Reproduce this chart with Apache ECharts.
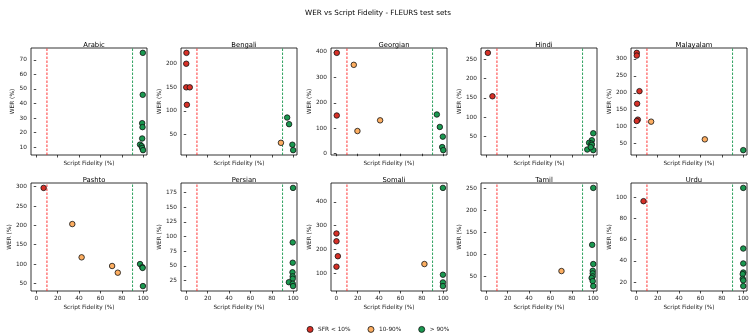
<!DOCTYPE html>
<html><head><meta charset="utf-8">
<script src="https://cdn.jsdelivr.net/npm/echarts@6/dist/echarts.min.js"></script>
<style>html,body{margin:0;padding:0;background:#fff}#c{width:756px;height:335px}</style>
</head><body><div id="c"></div>
<script>
const languages = ['Arabic','Bengali','Georgian','Hindi','Malayalam','Pashto','Persian','Somali','Tamil','Urdu'];
const arabicFid = [99.6, 99.5, 99.0, 99.3, 99.0, 97.0, 98.5, 99.0, 99.8];
const arabicWer = [74.8, 46.0, 26.5, 23.8, 16.0, 11.8, 10.8, 9.5, 8.0];
const bengaliFid = [0.2, 0.0, 0.0, 3.3, 0.6, 94.3, 96.1, 88.5, 99.2, 99.9];
const bengaliWer = [223, 200, 150, 150, 113, 86, 72, 32.5, 28.5, 17];
const georgianFid = [0.5, 0.5, 16.4, 19.8, 41.0, 94.0, 96.8, 99.6, 99.0, 100];
const georgianWer = [396, 150, 349, 89, 131, 154, 105, 67, 26, 14];
const hindiFid = [1.5, 5.8, 100, 98.7, 96.1, 98.3, 98.7, 94.4, 100, 97.7];
const hindiWer = [266, 154, 58.5, 40.6, 34, 32, 28.6, 16.6, 15, 22.6];
const malayalamFid = [0.5, 0.5, 3.0, 0.8, 1.5, 0.5, 13.9, 64.1, 100];
const malayalamWer = [318, 310, 205, 168, 121, 117, 115, 62.8, 31];
const pashtoFid = [6.9, 33.7, 42.4, 70.9, 76.2, 97.0, 99.2, 99.4, 99.7];
const pashtoWer = [297, 203.5, 117.4, 95, 77.7, 100, 92, 90, 43];
const persianFid = [99.8, 99.5, 99.5, 99.3, 99.5, 99.5, 95.9, 99.5, 99.8];
const persianWer = [183, 90, 55.3, 39, 32, 28, 22, 19.5, 15.4];
const somaliFid = [0.2, 0.2, 1.5, 0.2, 82.4, 99.7, 99.7, 99.7, 99.7];
const somaliWer = [266.7, 234, 171, 126.8, 138, 459, 92.9, 60.6, 45];
const tamilFid = [100, 99, 100, 99.5, 99.5, 99.5, 98.5, 99.5, 100, 70.3];
const tamilWer = [250.7, 122, 78.6, 63.4, 57.5, 50.8, 47, 40, 28.8, 62.8];
const urduFid = [6.8, 100, 100, 100, 100, 99.5, 99.5, 100, 100];
const urduWer = [96.2, 108.7, 51.6, 37.5, 29, 27.5, 23.1, 21.5, 16.2];

const xTicks = [0, 20, 40, 60, 80, 100];
const yTicks = {
  Arabic: [10, 20, 30, 40, 50, 60, 70],
  Bengali: [50, 100, 150, 200],
  Georgian: [0, 100, 200, 300, 400],
  Hindi: [50, 100, 150, 200, 250],
  Malayalam: [50, 100, 150, 200, 250, 300],
  Pashto: [50, 100, 150, 200, 250, 300],
  Persian: [25, 50, 75, 100, 125, 150, 175],
  Somali: [100, 200, 300, 400],
  Tamil: [50, 100, 150, 200, 250],
  Urdu: [20, 40, 60, 80, 100]
};
const thresholds = [10, 90];
const groupNames = ['SFR < 10%', '10-90%', '> 90%'];

const fidData = [arabicFid, bengaliFid, georgianFid, hindiFid, malayalamFid, pashtoFid, persianFid, somaliFid, tamilFid, urduFid];
const werData = [arabicWer, bengaliWer, georgianWer, hindiWer, malayalamWer, pashtoWer, persianWer, somaliWer, tamilWer, urduWer];

const colors = ['#d73027', '#fdae61', '#1a9850'];
const lineColors = ['#ff2020', '#1a9850'];
const lefts = [31, 181, 331, 481, 631];
const W = 116;
const rows = [{top: 48, h: 107}, {top: 183, h: 108}];
const font = 'DejaVu Sans';

const grids = [], xAxes = [], yAxes = [], series = [], titles = [];
titles.push({text: 'WER vs Script Fidelity - FLEURS test sets', left: 'center', top: 5,
  textStyle: {fontFamily: font, fontSize: 7.2, fontWeight: 'normal', color: '#000'}});

languages.forEach((lang, i) => {
  const r = Math.floor(i / 5), c = i % 5;
  const row = rows[r];
  grids.push({left: lefts[c], top: row.top, width: W, height: row.h, show: true,
    borderColor: '#000', borderWidth: 0.8, backgroundColor: 'transparent'});
  titles.push({text: lang, left: lefts[c] + W / 2, top: row.top - 11, textAlign: 'center',
    textStyle: {fontFamily: font, fontSize: 6.8, fontWeight: 'normal', color: '#000'}});
  const f = fidData[i], w = werData[i];
  const lo = Math.min(...w), hi = Math.max(...w), pad = 0.05 * (hi - lo);
  const yMin = lo - pad, yMax = hi + pad;
  const maxLen = Math.max(...yTicks[lang].map(v => String(v).length));
  xAxes.push({type: 'value', gridIndex: i, min: -4.9, max: 103.5,
    name: 'Script Fidelity (%)', nameLocation: 'middle', nameGap: r === 0 ? 5 : 13,
    nameTextStyle: {fontFamily: font, fontSize: 5.8, color: '#222'},
    axisLine: {show: false}, splitLine: {show: false},
    axisTick: {show: true, customValues: xTicks, length: 2.5, lineStyle: {color: '#000', width: 0.7}},
    axisLabel: {show: r === 1, customValues: xTicks, fontFamily: font, fontSize: 5.8, color: '#222', margin: 4}});
  yAxes.push({type: 'value', gridIndex: i, min: yMin, max: yMax,
    name: 'WER (%)', nameLocation: 'middle', nameGap: maxLen >= 3 ? 17 : 14, nameRotate: 90,
    nameTextStyle: {fontFamily: font, fontSize: 5.8, color: '#222'},
    axisLine: {show: false}, splitLine: {show: false},
    axisTick: {show: true, customValues: yTicks[lang], length: 2.5, lineStyle: {color: '#000', width: 0.7}},
    axisLabel: {customValues: yTicks[lang], fontFamily: font, fontSize: 5.8, color: '#222', margin: 4}});
  thresholds.forEach((t, k) => {
    series.push({type: 'line', name: 'threshold' + k, xAxisIndex: i, yAxisIndex: i,
      data: [[t, yMin], [t, yMax]], symbol: 'none', silent: true, z: 2,
      lineStyle: {color: lineColors[k], type: [2.5, 1.5], width: 0.9},
      itemStyle: {color: lineColors[k]}});
  });
  const groups = [[], [], []];
  f.forEach((x, k) => {
    const g = x < thresholds[0] ? 0 : (x <= thresholds[1] ? 1 : 2);
    groups[g].push([x, w[k]]);
  });
  groups.forEach((pts, g) => {
    series.push({type: 'scatter', name: groupNames[g], xAxisIndex: i, yAxisIndex: i, data: pts,
      symbolSize: 5.5, itemStyle: {color: colors[g], borderColor: '#111', borderWidth: 0.8, opacity: 1},
      z: 3});
  });
});

const chart = echarts.init(document.getElementById('c'), null, {renderer: 'canvas'});
chart.setOption({
  animation: false,
  backgroundColor: '#fff',
  title: titles,
  grid: grids, xAxis: xAxes, yAxis: yAxes, series: series,
  legend: {data: groupNames, left: 'center', top: 321, icon: 'circle', itemWidth: 6, itemHeight: 6, itemGap: 17,
    textStyle: {fontFamily: font, fontSize: 5.8, color: '#222'},
    itemStyle: {borderColor: '#111', borderWidth: 0.8}}
});
</script></body></html>
